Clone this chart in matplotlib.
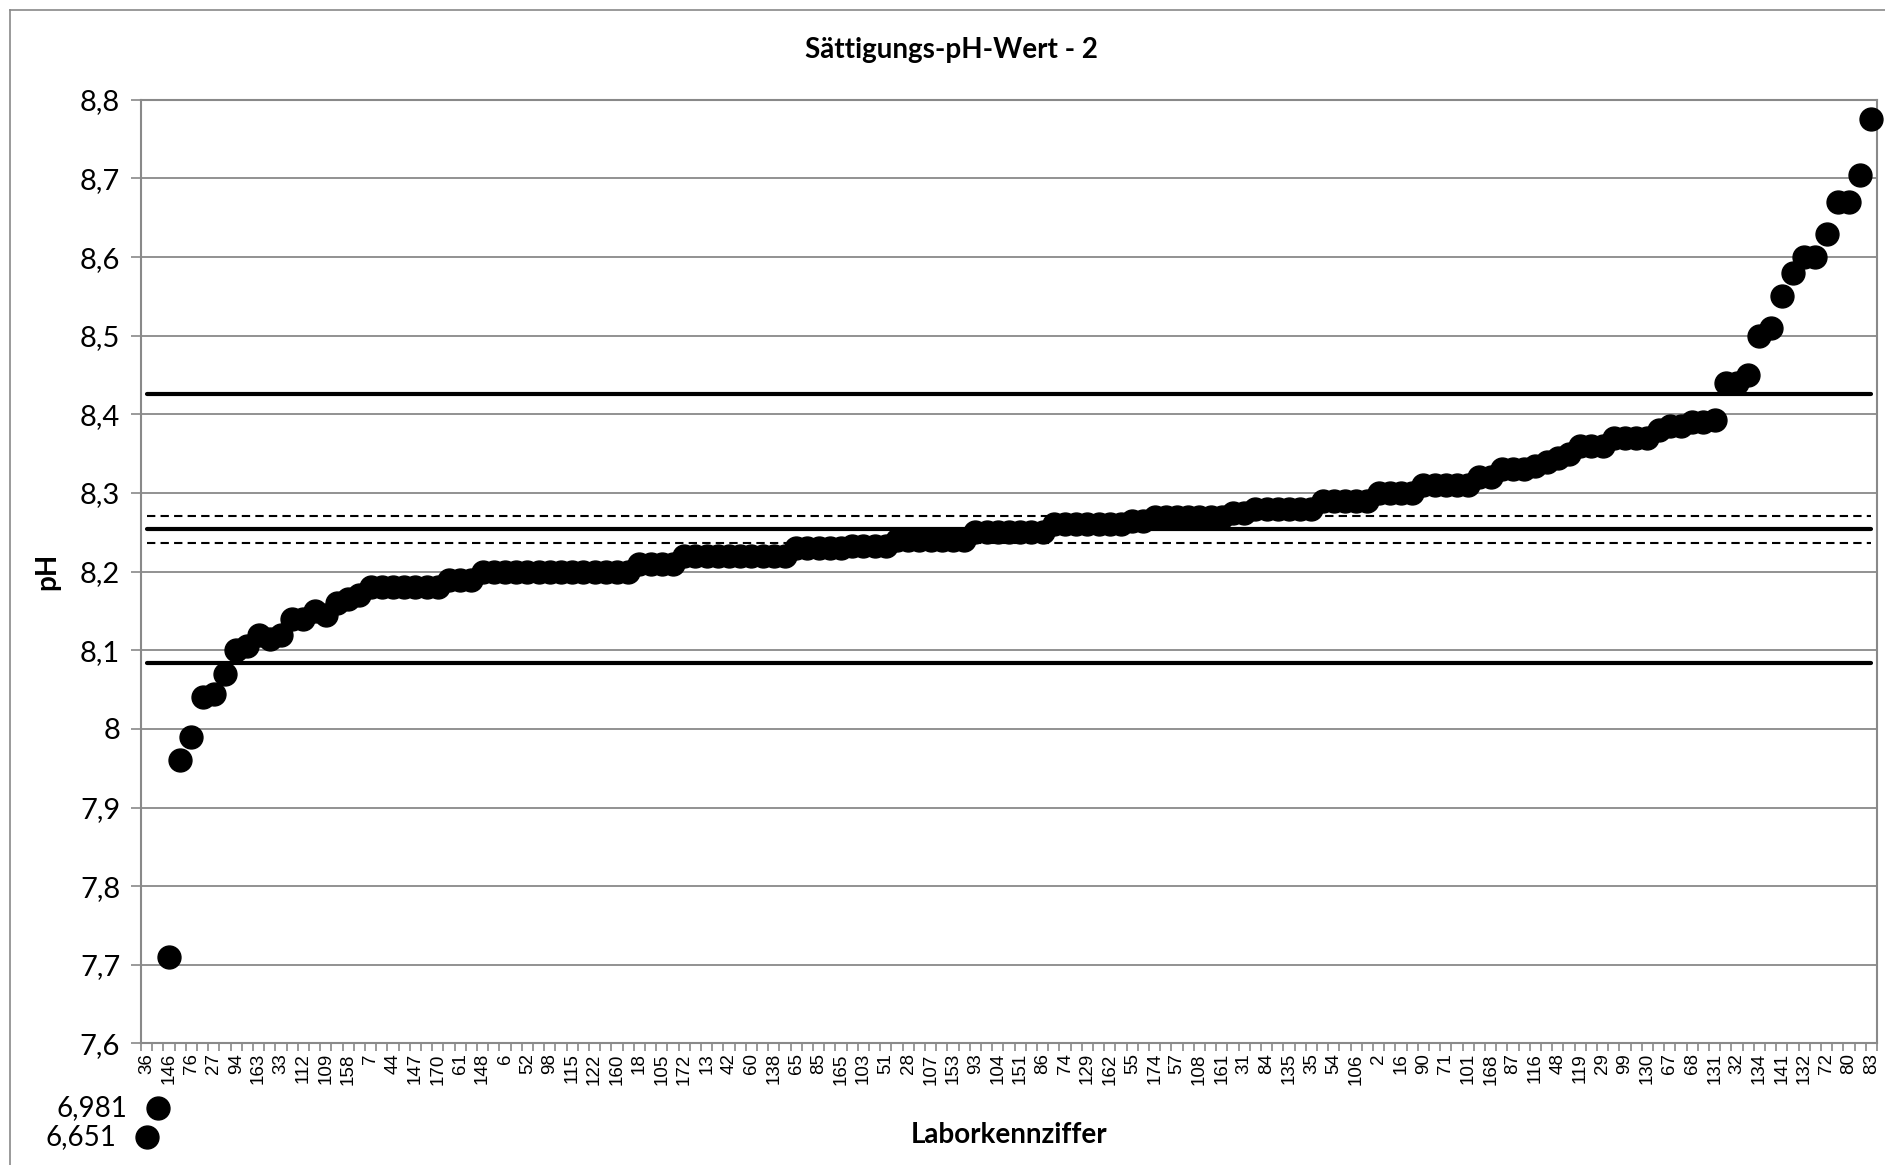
import matplotlib
matplotlib.use("Agg")
import matplotlib.pyplot as plt
import matplotlib.transforms as mtransforms
from matplotlib.lines import Line2D
from matplotlib.ticker import FuncFormatter, FixedLocator
import numpy as np

# sorted results, one per lab (categories 1..155)
ph_values = [
    6.651, 6.981, 7.71, 7.96, 7.99, 8.04, 8.045, 8.07, 8.10, 8.105,
    8.12, 8.115, 8.12, 8.14, 8.14, 8.15, 8.145, 8.16, 8.165, 8.17,
    8.18, 8.18, 8.18, 8.18, 8.18, 8.18, 8.18, 8.19, 8.19, 8.19,
    8.20, 8.20, 8.20, 8.20, 8.20, 8.20, 8.20, 8.20, 8.20, 8.20,
    8.20, 8.20, 8.20, 8.20, 8.21, 8.21, 8.21, 8.21, 8.22, 8.22,
    8.22, 8.22, 8.22, 8.22, 8.22, 8.22, 8.22, 8.22, 8.23, 8.23,
    8.23, 8.23, 8.23, 8.233, 8.233, 8.233, 8.233, 8.24, 8.24, 8.24,
    8.24, 8.24, 8.24, 8.24, 8.25, 8.25, 8.25, 8.25, 8.25, 8.25,
    8.25, 8.26, 8.26, 8.26, 8.26, 8.26, 8.26, 8.26, 8.265, 8.265,
    8.27, 8.27, 8.27, 8.27, 8.27, 8.27, 8.27, 8.275, 8.275, 8.28,
    8.28, 8.28, 8.28, 8.28, 8.28, 8.29, 8.29, 8.29, 8.29, 8.29,
    8.30, 8.30, 8.30, 8.30, 8.31, 8.31, 8.31, 8.31, 8.31, 8.32,
    8.32, 8.33, 8.33, 8.33, 8.335, 8.34, 8.345, 8.35, 8.36, 8.36,
    8.36, 8.37, 8.37, 8.37, 8.37, 8.38, 8.385, 8.385, 8.39, 8.39,
    8.393, 8.44, 8.44, 8.45, 8.50, 8.51, 8.55, 8.58, 8.60, 8.60,
    8.63, 8.67, 8.67, 8.705, 8.775,
]

# lab numbers shown on the axis (every second category)
lab_labels = [
    "36", "146", "76", "27", "94", "163", "33", "112", "109", "158",
    "7", "44", "147", "170", "61", "148", "6", "52", "98", "115",
    "122", "160", "18", "105", "172", "13", "42", "60", "138", "65",
    "85", "165", "103", "51", "28", "107", "153", "93", "104", "151",
    "86", "74", "129", "162", "55", "174", "57", "108", "161", "31",
    "84", "135", "35", "54", "106", "2", "16", "90", "71", "101",
    "168", "87", "116", "48", "119", "29", "99", "130", "67", "68",
    "131", "32", "134", "141", "132", "72", "80", "83",
]

assigned = 8.254
limits = [8.084, 8.426]
uncert = [8.237, 8.271]
y_min, y_max = 7.6, 8.8

grid_col = "#898989"

fig = plt.figure(figsize=(18.85, 11.65), dpi=100)
ax = fig.add_axes([0.0748, 0.1043, 0.9210, 0.8100])

y = np.array(ph_values)
x = np.arange(1, len(y) + 1)
inr = y >= y_min

ax.plot(x[inr], y[inr], "o", ms=16.5, color="black", clip_on=False, zorder=5)

# values below the axis: drawn under the axis with their value
trans = mtransforms.blended_transform_factory(ax.transData, ax.transAxes)
below_pos = [-0.099, -0.068]
for xi, yi, bp in zip(x[~inr], y[~inr], below_pos):
    ax.plot(xi, bp, "o", ms=16.5, color="black", transform=trans, clip_on=False)
    ax.annotate(f"{yi:.3f}".replace(".", ","), xy=(xi, bp), xycoords=trans,
                xytext=(-22, 0), textcoords="offset points", ha="right",
                va="center", fontsize=20, family="Lato", annotation_clip=False)

ax.plot([x[0], x[-1]], [assigned, assigned], color="black", lw=3,
        solid_capstyle="round", zorder=3)
for v in limits:
    ax.plot([x[0], x[-1]], [v, v], color="black", lw=3,
            solid_capstyle="round", zorder=3)
for v in uncert:
    ax.plot([x[0], x[-1]], [v, v], color="black", lw=1.5,
            dashes=(4, 2.5), zorder=3)

ax.set_xlim(0.5, len(y) + 0.5)
ax.set_ylim(y_min, y_max)
ax.set_yticks(np.round(np.arange(y_min, y_max + 0.001, 0.1), 1))
ax.yaxis.set_major_formatter(FuncFormatter(
    lambda v, p: (f"{v:.1f}".rstrip("0").rstrip(".")).replace(".", ",")))
ax.yaxis.grid(True, color=grid_col, lw=1.3)
ax.set_axisbelow(True)

ax.set_xticks(x[::2])
ax.set_xticklabels(lab_labels, rotation=90, fontsize=13.5,
                   family="Liberation Sans")
ax.xaxis.set_minor_locator(FixedLocator(np.arange(0.5, len(y) + 1, 1)))
ax.tick_params(axis="x", which="major", length=0, pad=7)
ax.tick_params(axis="x", which="minor", length=6, width=1.2, color=grid_col)
ax.tick_params(axis="y", length=7, width=1.2, color=grid_col, pad=8,
               labelsize=21)
for lab in ax.get_yticklabels():
    lab.set_family("Lato")

for s in ax.spines.values():
    s.set_color(grid_col)
    s.set_linewidth(1.5)

ax.set_ylabel("pH", fontsize=20, fontweight="bold", family="Lato")
ax.yaxis.set_label_coords(-0.0467, 0.5)
ax.set_xlabel("Laborkennziffer", fontsize=20, fontweight="bold", family="Lato")
ax.xaxis.set_label_coords(0.5, -0.083)

fig.text(0.505, 0.957, "Sättigungs-pH-Wert - 2", ha="center", va="center",
         fontsize=20, fontweight="bold", family="Lato")

# chart area frame
fig.add_artist(Line2D([0.0053, 0.0053], [0, 0.9914], color=grid_col, lw=1.2))
fig.add_artist(Line2D([0.0053, 1], [0.9914, 0.9914], color=grid_col, lw=1.2))

fig.savefig("out.png", dpi=100)
